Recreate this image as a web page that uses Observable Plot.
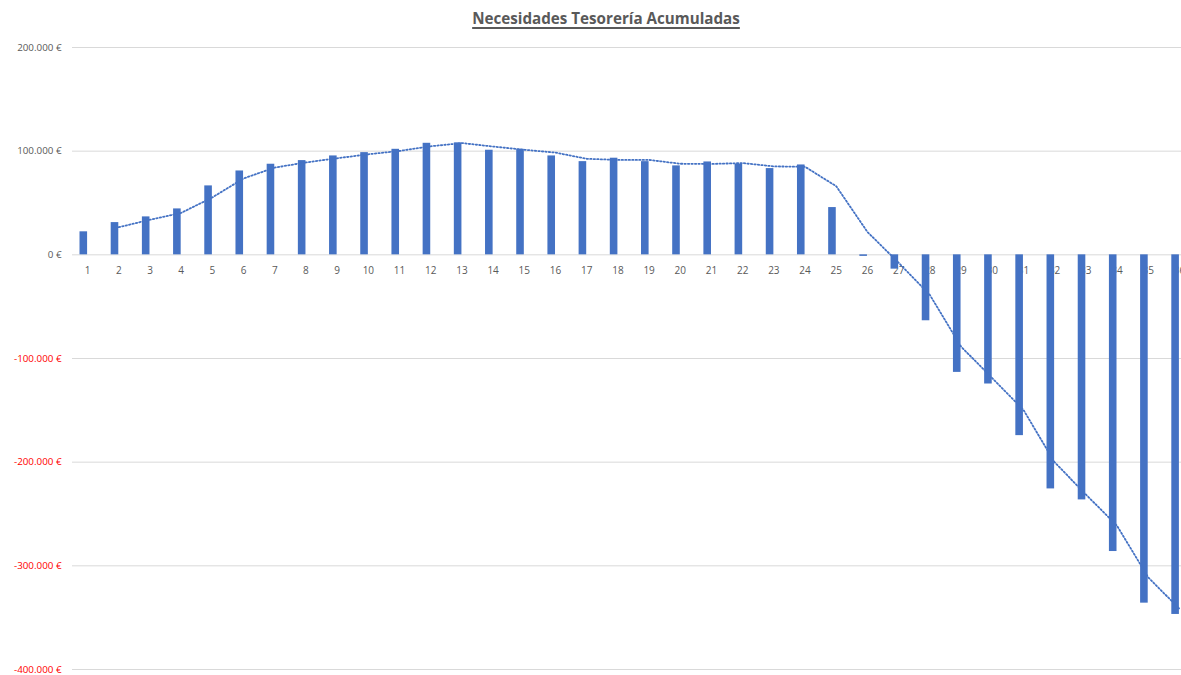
<!DOCTYPE html>
<html>
<head>
<meta charset="utf-8">
<script src="https://cdn.jsdelivr.net/npm/d3@7"></script>
<script src="https://cdn.jsdelivr.net/npm/@observablehq/plot@0.6"></script>
<style>
  html, body { margin: 0; padding: 0; background: #fff; overflow: hidden; }
  #wrap { position: relative; width: 1181px; height: 675px; }
  #title {
    position: absolute; top: 8px; left: 606px; transform: translateX(-50%);
    font-family: "Open Sans", sans-serif; font-weight: bold; font-size: 15.2px;
    color: #595959; text-decoration: underline; text-decoration-thickness: 1.5px;
    text-underline-offset: 3px; white-space: nowrap; z-index: 2;
  }
  svg { overflow: hidden; }
</style>
</head>
<body>
<div id="wrap">
  <div id="title">Necesidades Tesorería Acumuladas</div>
  <div id="chart"></div>
</div>
<script>
const categories = [1,2,3,4,5,6,7,8,9,10,11,12,13,14,15,16,17,18,19,20,21,22,23,24,25,26,27,28,29,30,31,32,33,34,35,36];
const values = [22200, 31100, 36600, 44300, 66500, 80900, 87400, 90900, 95400, 98600, 101800, 107600,
  108000, 100900, 101800, 95400, 89900, 93200, 89900, 85800, 89600, 87400, 83200, 86700,
  45600, -1500, -13800, -63600, -113400, -124600, -174400, -225800, -236400, -286200, -336000, -346900];
const xTickLabels = ["1","2","3","4","5","6","7","8","9","10","11","12","13","14","15","16","17","18","19","20","21","22","23","24","25","26","27","28","29","30","31","32","33","34","35","36"];
const yTicks = [200000, 100000, 0, -100000, -200000, -300000, -400000];
const yTickLabels = ["200.000 €", "100.000 €", "0 €", "-100.000 €", "-200.000 €", "-300.000 €", "-400.000 €"];

const data = categories.map((c, i) => ({cat: c, value: values[i], label: xTickLabels[i]}));
const fmt = d => yTickLabels[yTicks.indexOf(d)];
const posTicks = yTicks.filter(d => d >= 0);
const negTicks = yTicks.filter(d => d < 0);

const chart = Plot.plot({
  width: 1181,
  height: 675,
  marginTop: 47,
  marginBottom: 6,
  marginLeft: 72,
  marginRight: 0,
  style: {fontFamily: "'Open Sans', sans-serif", fontSize: "10px", background: "#fff"},
  x: {type: "band", domain: categories, range: [71.5, 1194.5], padding: 0, round: false, axis: null},
  y: {domain: [-400000, 200000], axis: null},
  marks: [
    Plot.ruleY(yTicks, {stroke: "#d9d9d9", strokeWidth: 1}),
    Plot.axisY(posTicks, {tickSize: 0, tickPadding: 11, tickFormat: fmt, fill: "#595959", fontSize: 9.8, label: null}),
    Plot.axisY(negTicks, {tickSize: 0, tickPadding: 11, tickFormat: fmt, fill: "#ff0000", fontSize: 9.8, label: null}),
    Plot.text(data, {x: "cat", y: () => 0, text: "label", dy: 16, fill: "#595959", fontSize: 10}),
    Plot.barY(data, {x: "cat", y: "value", fill: "#4472C4", insetLeft: 8, insetRight: 15.6}),
    Plot.lineY(data, Plot.windowY({k: 2, anchor: "end", strict: true, reduce: "mean"},
      {x: "cat", y: "value", stroke: "#4472C4", strokeWidth: 1.8, strokeDasharray: "1.4 2.1"}))
  ]
});
document.getElementById("chart").appendChild(chart);
</script>
</body>
</html>
